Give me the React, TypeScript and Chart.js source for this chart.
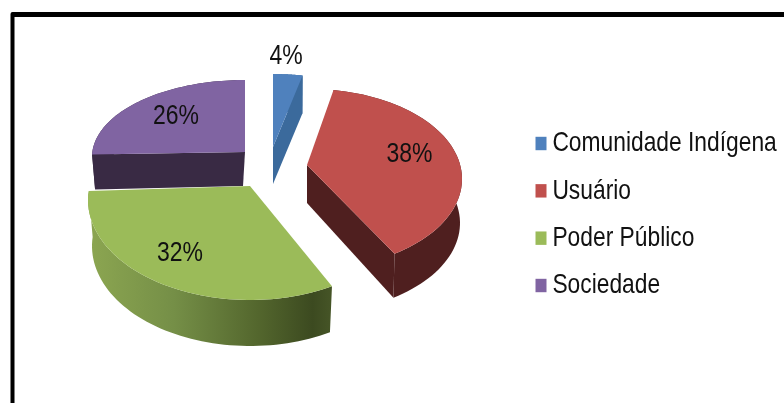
import React, { useEffect, useRef } from "react";
import { Chart, registerables } from "chart.js";

Chart.register(...registerables);

const categories = ["Comunidade Indígena", "Usuário", "Poder Público", "Sociedade"];
const shares = [4, 38, 32, 26];
const topColors = ["#4F81BD", "#C0504D", "#9BBB59", "#8064A2"];
const wallColors = ["#3B6A9C", "#4F1F1F", "#5A6B30", "#392A44"];

// Look of the tilted, exploded pie: offsets are relative to the pie centre.
const FONT = '"Liberation Sans", sans-serif';
const V_STRETCH = 1.22;
const drawOrder = [3, 0, 1, 2];
const sliceStyles = [
  { tip: [28, -39], ell: [28, -31], a: 155, b: 81, ds: 0, de: -3.4, depth: 38, tipDepth: 37, tipShift: 0, inset: 1, cutStart: false, cutEnd: true, label: [41, -130] },
  { tip: [62, -21], ell: [65, -7], a: 152, b: 90, ds: -5.5, de: -5, depth: 44, tipDepth: 38, tipShift: 0, inset: 2, cutStart: false, cutEnd: true, label: [164.5, -32] },
  { tip: [5, 0], ell: [5, 14], a: 162, b: 100, ds: -1.6, de: 8.8, depth: 46, tipDepth: 46, tipShift: 0, inset: 4, cutStart: false, cutEnd: false, label: [-65, 67] },
  { tip: [0, -34], ell: [0, -29], a: 153, b: 77, ds: 5.5, de: 0, depth: 35, tipDepth: 34, tipShift: -2, inset: 3, cutStart: true, cutEnd: false, label: [-69, -70] },
];
const greenWallStops: [number, string][] = [
  [0, "#8CA651"],
  [0.35, "#758F47"],
  [0.7, "#53662D"],
  [0.92, "#3C4A20"],
  [1, "#465527"],
];

const tiltedPie = {
  id: "tiltedPie",
  beforeDraw(chart: any) {
    const ctx = chart.ctx;
    ctx.save();
    ctx.fillStyle = "#FFFFFF";
    ctx.fillRect(0, 0, chart.width, chart.height);
    // picture frame, running off the right and bottom of the image
    ctx.fillStyle = "#000000";
    ctx.beginPath();
    ctx.roundRect(10.5, 12, chart.width + 20, chart.height + 20, 2);
    ctx.rect(14.5, 17, chart.width, chart.height);
    ctx.fill("evenodd");
    ctx.restore();

    const legend = chart.legend;
    if (legend && !legend.__stretched) {
      legend.__stretched = true;
      const original = legend.draw.bind(legend);
      legend.draw = (area: any) => {
        const first = legend.legendHitBoxes[0];
        const c = legend.ctx;
        c.save();
        c.translate(541 - first.left, 143.5 - V_STRETCH * (first.top + first.height / 2));
        c.scale(1, V_STRETCH);
        original(area);
        c.restore();
      };
    }
  },
  beforeDatasetsDraw(chart: any) {
    const ctx = chart.ctx;
    const arcs = chart.getDatasetMeta(0).data;
    const rad = Math.PI / 180;
    drawOrder.forEach((i) => {
      const arc = arcs[i];
      const s = sliceStyles[i];
      const start = arc.startAngle + Math.PI / 2;
      const end = arc.endAngle + Math.PI / 2;
      const ox = arc.x;
      const oy = arc.y;
      const pt = (k: number, dy: number, shrink: number) => {
        const th = start + (end - start) * k;
        const ph = th + (s.ds + (s.de - s.ds) * k) * rad;
        return [
          ox + s.ell[0] + (s.a - shrink) * Math.sin(ph),
          oy + s.ell[1] + dy - s.b * Math.cos(ph),
        ];
      };
      const tipX = ox + s.tip[0];
      const tipY = oy + s.tip[1];
      const N = 60;
      // outer wall
      ctx.beginPath();
      for (let n = 0; n <= N; n++) {
        const p = pt(n / N, 0, 0);
        n ? ctx.lineTo(p[0], p[1]) : ctx.moveTo(p[0], p[1]);
      }
      for (let n = N; n >= 0; n--) {
        const p = pt(n / N, s.depth, s.inset);
        ctx.lineTo(p[0], p[1]);
      }
      ctx.closePath();
      if (i === 2) {
        const g = ctx.createLinearGradient(ox - 157, 0, ox + 87, 0);
        greenWallStops.forEach(([o, c]) => g.addColorStop(o, c));
        ctx.fillStyle = g;
      } else {
        ctx.fillStyle = wallColors[i];
      }
      ctx.fill();
      // cut faces
      const cut = (k: number) => {
        const a = pt(k, 0, 0);
        const b = pt(k, s.depth, s.inset);
        ctx.beginPath();
        ctx.moveTo(tipX, tipY);
        ctx.lineTo(a[0], a[1]);
        ctx.lineTo(b[0], b[1]);
        ctx.lineTo(tipX + s.tipShift, tipY + s.tipDepth);
        ctx.closePath();
        ctx.fillStyle = wallColors[i];
        ctx.fill();
      };
      if (s.cutStart) cut(0);
      if (s.cutEnd) cut(1);
      // top face
      ctx.beginPath();
      ctx.moveTo(tipX, tipY);
      for (let n = 0; n <= N; n++) {
        const p = pt(n / N, 0, 0);
        ctx.lineTo(p[0], p[1]);
      }
      ctx.closePath();
      ctx.fillStyle = topColors[i];
      ctx.fill();
    });
    // value labels
    ctx.save();
    ctx.font = `23px ${FONT}`;
    ctx.textAlign = "center";
    ctx.textBaseline = "middle";
    ctx.fillStyle = "#111111";
    shares.forEach((v, i) => {
      const arc = arcs[i];
      const l = sliceStyles[i].label;
      ctx.save();
      ctx.translate(arc.x + l[0], arc.y + l[1]);
      ctx.scale(1, V_STRETCH);
      ctx.fillText(`${v}%`, 0, 0);
      ctx.restore();
    });
    ctx.restore();
    return false;
  },
};

export default function App() {
  const ref = useRef<HTMLCanvasElement>(null);
  useEffect(() => {
    const chart = new Chart(ref.current as HTMLCanvasElement, {
      type: "pie",
      data: {
        labels: categories,
        datasets: [{ data: shares, backgroundColor: topColors, borderWidth: 0 }],
      },
      options: {
        responsive: false,
        animation: false,
        radius: 155,
        events: [],
        layout: { padding: { left: 0, top: 0, right: 294, bottom: 31 } },
        plugins: {
          tooltip: { enabled: false },
          title: { display: false },
          legend: {
            position: "chartArea",
            labels: {
              usePointStyle: true,
              pointStyle: "rect",
              boxWidth: 0.01,
              boxHeight: 11,
              padding: 16,
              color: "#111111",
              font: { family: FONT, size: 22.8 },
            },
          },
        },
      },
      plugins: [tiltedPie],
    } as any);
    return () => chart.destroy();
  }, []);
  return (
    <div style={{ position: "absolute", left: 0, top: 0, width: 784, height: 403, overflow: "hidden" }}>
      <canvas ref={ref} width={784} height={403} style={{ display: "block" }} />
    </div>
  );
}
